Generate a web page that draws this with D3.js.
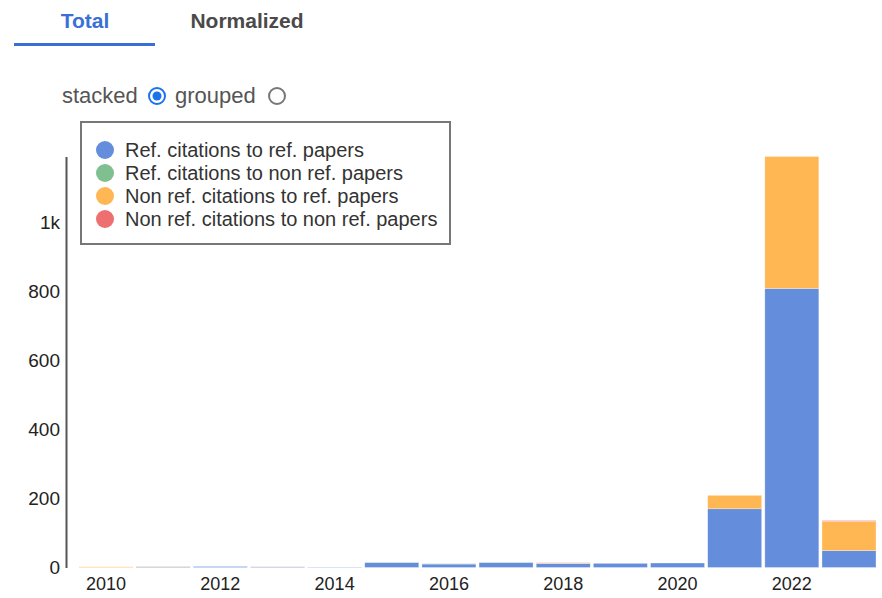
<!DOCTYPE html>
<html>
<head>
<meta charset="utf-8">
<script src="https://cdn.jsdelivr.net/npm/d3@7"></script>
<style>
  body { margin: 0; background: #fff; }
  svg { font-family: "Liberation Sans", Arial, sans-serif; display: block; }
</style>
</head>
<body>
<svg width="882" height="598"></svg>
<script>
// data
const years = [2010, 2011, 2012, 2013, 2014, 2015, 2016, 2017, 2018, 2019, 2020, 2021, 2022, 2023];
const refToRef = [0, 2, 3, 2, 1, 14, 10, 14, 12, 12, 13, 170, 808, 49];
const refToNonRef = [0, 1, 0, 0, 0, 1, 1, 1, 0, 0, 0, 0, 0, 0];
const nonRefToRef = [2, 1, 0, 1, 0, 0, 0, 0, 1, 0, 0, 39, 382, 85];
const nonRefToNonRef = [0, 0, 0, 0, 0, 0, 0, 0, 1, 0, 0, 0, 0, 2];
const seriesNames = [
  "Ref. citations to ref. papers",
  "Ref. citations to non ref. papers",
  "Non ref. citations to ref. papers",
  "Non ref. citations to non ref. papers"
];
const seriesColors = ["#648ddc", "#80bf8f", "#ffb754", "#ee6f6f"];
const yTicks = [0, 200, 400, 600, 800, 1000];
const xTickYears = [2010, 2012, 2014, 2016, 2018, 2020, 2022];

const svg = d3.select("svg");

// 탭
svg.append("text").attr("x", 85).attr("y", 28).attr("text-anchor", "middle")
  .attr("font-size", "21px").attr("font-weight", "bold").attr("fill", "#3a6fd8").text("Total");
svg.append("text").attr("x", 247).attr("y", 28).attr("text-anchor", "middle")
  .attr("font-size", "21px").attr("font-weight", "bold").attr("fill", "#4a4a4a").text("Normalized");
svg.append("rect").attr("x", 14).attr("y", 43).attr("width", 141).attr("height", 3).attr("fill", "#3a6fd8");

// 라디오 버튼
svg.append("text").attr("x", 62).attr("y", 103).attr("font-size", "22px").attr("fill", "#555").text("stacked");
svg.append("circle").attr("cx", 157).attr("cy", 96).attr("r", 8).attr("fill", "#fff")
  .attr("stroke", "#1a73e8").attr("stroke-width", 2);
svg.append("circle").attr("cx", 157).attr("cy", 96).attr("r", 4.5).attr("fill", "#1a73e8");
svg.append("text").attr("x", 175).attr("y", 103).attr("font-size", "22px").attr("fill", "#555").text("grouped");
svg.append("circle").attr("cx", 277).attr("cy", 96).attr("r", 8).attr("fill", "#fff")
  .attr("stroke", "#777").attr("stroke-width", 2);

// 스택 데이터
const table = years.map((yr, i) => ({
  year: yr,
  s0: refToRef[i], s1: refToNonRef[i], s2: nonRefToRef[i], s3: nonRefToNonRef[i]
}));
const stack = d3.stack().keys(["s0", "s1", "s2", "s3"])(table);
const maxTotal = d3.max(table, d => d.s0 + d.s1 + d.s2 + d.s3);

const x = d3.scaleBand().domain(years).range([79, 876]).paddingInner(0.055).paddingOuter(0);
const y = d3.scaleLinear().domain([0, maxTotal]).range([567.5, 156.5]);

svg.append("g")
  .selectAll("g")
  .data(stack)
  .enter()
  .append("g")
  .attr("fill", (d, i) => seriesColors[i])
  .selectAll("rect")
  .data(d => d)
  .enter()
  .append("rect")
  .attr("x", d => x(d.data.year))
  .attr("width", x.bandwidth())
  .attr("y", d => y(d[1]))
  .attr("height", d => y(d[0]) - y(d[1]))
  .attr("stroke", "#fff")
  .attr("stroke-opacity", 0.5)
  .attr("stroke-width", 0.6);

// y축
const yAxis = svg.append("g")
  .attr("transform", "translate(66,0)")
  .call(d3.axisLeft(y).tickValues(yTicks).tickSize(0).tickSizeOuter(0).tickPadding(6)
    .tickFormat(d => d >= 1000 ? d3.format("~s")(d) : d));
yAxis.select(".domain").attr("stroke", "#555").attr("stroke-width", 2);
yAxis.selectAll("text").attr("font-size", "19px").attr("fill", "#222")
  .attr("font-family", "Liberation Sans, Arial, sans-serif");

// x축 라벨
const xAxis = svg.append("g")
  .attr("transform", "translate(0,573)")
  .call(d3.axisBottom(x).tickValues(xTickYears).tickSize(0).tickPadding(4));
xAxis.select(".domain").remove();
xAxis.selectAll("text").attr("font-size", "18px").attr("fill", "#222")
  .attr("font-family", "Liberation Sans, Arial, sans-serif");

// 범례
const legend = svg.append("g");
legend.append("rect").attr("x", 81).attr("y", 122).attr("width", 369).attr("height", 122)
  .attr("fill", "#fff").attr("stroke", "#777").attr("stroke-width", 2);
const items = legend.selectAll(".item").data(seriesNames).enter().append("g").attr("class", "item");
items.append("circle")
  .attr("cx", 105)
  .attr("cy", (d, i) => 150 + i * 23)
  .attr("r", 9)
  .attr("fill", (d, i) => seriesColors[i]);
items.append("text")
  .attr("x", 125)
  .attr("y", (d, i) => 150 + i * 23)
  .attr("dy", "0.35em")
  .attr("font-size", "20px")
  .attr("fill", "#333")
  .text(d => d);
</script>
</body>
</html>
